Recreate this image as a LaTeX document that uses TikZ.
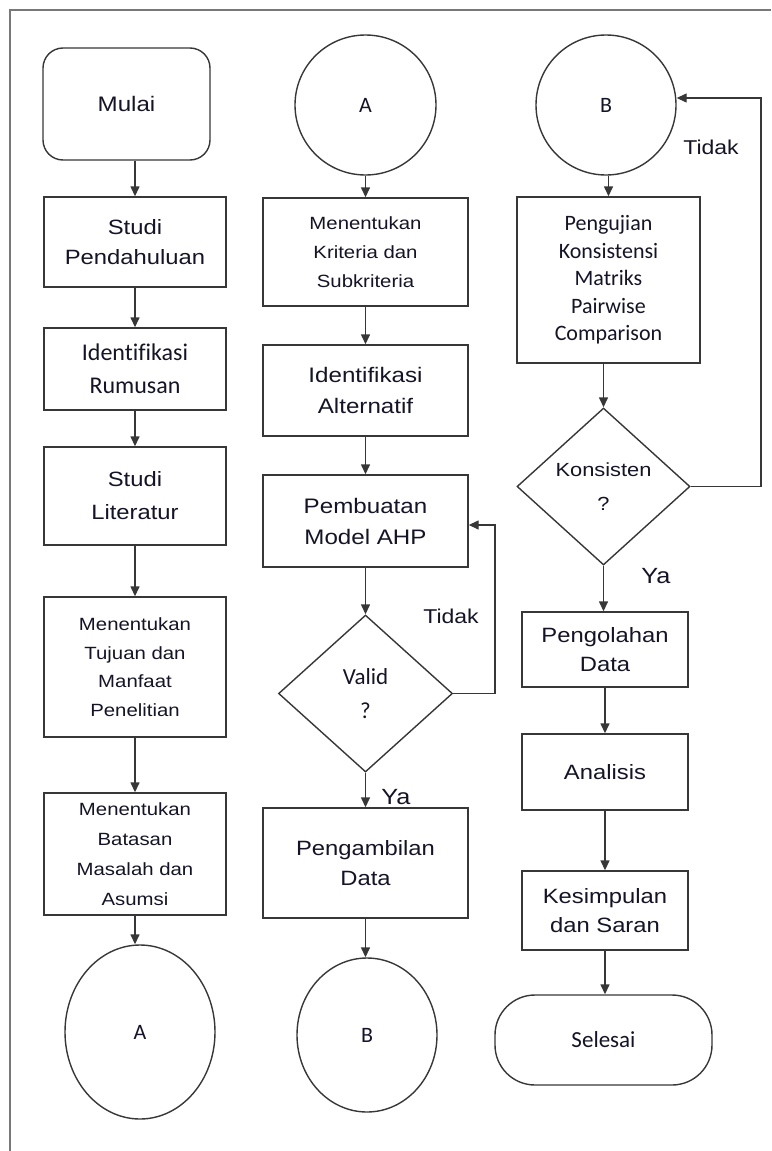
\documentclass[tikz,border=0pt]{standalone}
\usepackage{fontspec}
\setmainfont{Liberation Sans}[FakeStretch=1.15]
\newfontfamily\calib{Carlito}[Ligatures=NoCommon]
\usetikzlibrary{shapes.geometric,arrows.meta}
\definecolor{ln}{RGB}{55,55,55}
\definecolor{txt}{RGB}{20,20,38}
\definecolor{frm}{RGB}{120,120,120}
\begin{document}
\begin{tikzpicture}[x=1pt,y=-1pt,
  every node/.style={text=txt, inner sep=0pt},
  box/.style={draw=ln, line width=1.4pt, rectangle, align=center},
  circ/.style={draw=ln, line width=1.4pt, ellipse, font=\calib\fontsize{22}{26}\selectfont},
  dec/.style={draw=ln, line width=1.4pt, diamond, align=center},
  arr/.style={draw=ln, line width=1.4pt, -{Triangle[width=9pt,length=10pt]}},
  lnk/.style={draw=ln, line width=1.4pt},
  big/.style={font=\fontsize{20.7}{30}\selectfont},
  mid/.style={font=\fontsize{17.7}{28.5}\selectfont},
  lab/.style={font=\fontsize{20}{24}\selectfont}
]
\useasboundingbox (0,0) rectangle (771,1151);
\draw[frm, line width=1.5pt] (10,1151) -- (10,10) -- (771,10);

% column 1
\node[box, rounded corners=20pt, minimum width=167pt, minimum height=112pt, font=\fontsize{21}{26}\selectfont] (mulai) at (126.5,104) {Mulai};
\node[box, big, minimum width=182pt, minimum height=90pt] (studi) at (135,242) {Studi\\Pendahuluan};
\node[box, minimum width=182pt, minimum height=82pt, font=\calib\fontsize{24}{33}\selectfont] (ident) at (135,369) {Identifikasi\\Rumusan};
\node[box, big, minimum width=182pt, minimum height=98pt, font=\fontsize{20.7}{33}\selectfont] (lit) at (135,496) {Studi\\Literatur};
\node[box, mid, minimum width=182pt, minimum height=140pt] (tujuan) at (135,667) {Menentukan\\Tujuan dan\\Manfaat\\Penelitian};
\node[box, mid, minimum width=182pt, minimum height=122pt, font=\fontsize{17.7}{30}\selectfont] (batas) at (135,854) {Menentukan\\Batasan\\Masalah dan\\Asumsi};
\node[circ, minimum width=150pt, minimum height=174pt] (a2) at (140,1032) {A};

\draw[arr] (studi.north |- mulai.south) -- (studi.north);
\draw[arr] (studi) -- (ident);
\draw[arr] (ident) -- (lit);
\draw[arr] (lit) -- (tujuan);
\draw[arr] (tujuan) -- (batas);
\draw[arr] (batas.south) -- (batas.south |- a2.north);

% column 2
\node[circ, minimum width=141pt, minimum height=140pt] (a1) at (365.5,105) {A};
\node[box, mid, minimum width=205pt, minimum height=108pt, font=\fontsize{17.7}{29}\selectfont] (krit) at (365.5,252) {Menentukan\\Kriteria dan\\Subkriteria};
\node[box, big, minimum width=205pt, minimum height=91pt, font=\fontsize{21}{31}\selectfont] (alt) at (365.5,390.5) {Identifikasi\\Alternatif};
\node[box, big, minimum width=205pt, minimum height=92pt, font=\fontsize{21}{31}\selectfont] (model) at (365.5,521) {Pembuatan\\Model AHP};
\node[dec, minimum width=174pt, minimum height=157pt, font=\calib\fontsize{23}{34}\selectfont] (valid) at (365.5,693.5) {Valid\\?};
\node[box, big, minimum width=205pt, minimum height=110pt] (ambil) at (365.5,863) {Pengambilan\\Data};
\node[circ, minimum width=140pt, minimum height=154pt] (b2) at (367,1035) {B};
\coordinate (vr) at (495,693.5);
\coordinate (vt) at (495,525);

\draw[arr] (a1) -- (krit);
\draw[arr] (krit) -- (alt);
\draw[arr] (alt) -- (model);
\draw[arr] (model) -- (valid);
\draw[arr] (valid) -- (ambil);
\draw[arr] (ambil.south) -- (ambil.south |- b2.north);
\draw[arr] (valid.east) -- (vr) -- (vt) -- (vt -| model.east);
\node[lab] (tidak1) at (451,616) {Tidak};
\node[lab, font=\fontsize{22}{26}\selectfont] (ya1) at (396,797) {Ya};

% column 3
\node[circ, minimum width=140pt, minimum height=140pt] (b1) at (606,105) {B};
\node[box, minimum width=183pt, minimum height=166pt, font=\calib\fontsize{22}{27.5}\selectfont] (uji) at (608.5,280) {Pengujian\\Konsistensi\\Matriks\\Pairwise\\Comparison};
\node[dec, minimum width=173pt, minimum height=157pt, font=\fontsize{19}{34}\selectfont] (kons) at (603.5,486.5) {Konsisten\\?};
\node[box, big, minimum width=166pt, minimum height=75pt, font=\fontsize{20.7}{29}\selectfont] (olah) at (605,649.5) {Pengolahan\\Data};
\node[box, big, minimum width=166pt, minimum height=76pt] (anal) at (605,772) {Analisis};
\node[box, big, minimum width=166pt, minimum height=79pt, font=\fontsize{20.7}{29}\selectfont] (simp) at (605,910.5) {Kesimpulan\\dan Saran};
\node[box, rounded corners=40pt, minimum width=217pt, minimum height=90pt, font=\calib\fontsize{23}{26}\selectfont] (selesai) at (603.5,1040) {Selesai};
\coordinate (kr) at (761,486.5);
\coordinate (kt) at (761,98);

\draw[arr] (b1.south -| uji.north) -- (uji.north);
\draw[arr] (uji.south -| kons.north) -- (kons.north);
\draw[arr] (kons.south) -- (kons.south |- olah.north);
\draw[arr] (olah) -- (anal);
\draw[arr] (anal) -- (simp);
\draw[arr] (simp.south) -- (simp.south |- selesai.north);
\draw[arr] (kons.east) -- (kr) -- (kt) -- (b1.east |- kt);
\node[lab] (tidak2) at (711,147) {Tidak};
\node[lab, font=\fontsize{22}{26}\selectfont] (ya2) at (656,576) {Ya};
\end{tikzpicture}
\end{document}
